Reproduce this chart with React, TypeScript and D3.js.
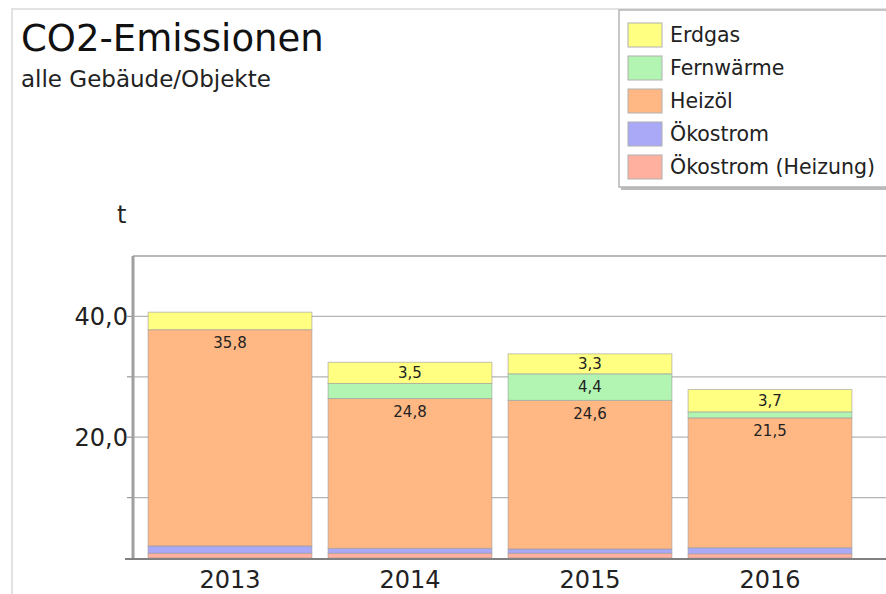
import React from "react";
import * as d3 from "d3";

const years = ["2013", "2014", "2015", "2016"];
const oekostromHeizung = [0.8, 0.8, 0.8, 0.7];
const oekostrom = [1.2, 0.8, 0.7, 1.0];
const heizoel = [35.8, 24.8, 24.6, 21.5];
const fernwaerme = [0, 2.5, 4.4, 1.0];
const erdgas = [2.9, 3.5, 3.3, 3.7];

const seriesNames = ["Ökostrom (Heizung)", "Ökostrom", "Heizöl", "Fernwärme", "Erdgas"];
const seriesValues = [oekostromHeizung, oekostrom, heizoel, fernwaerme, erdgas];
const seriesColors = ["#ffb09e", "#a9a9f8", "#ffb884", "#b2f5b2", "#ffff82"];
const legendOrder = ["Erdgas", "Fernwärme", "Heizöl", "Ökostrom", "Ökostrom (Heizung)"];
const yTickLabels = [20, 40];
const gridValues = [10, 20, 30, 40];

const W = 886;
const H = 594;
const FONT = "'DejaVu Sans', Verdana, sans-serif";

export default function App() {
  const plotLeft = 133;
  const plotRight = 886;
  const plotTop = 256;
  const plotBottom = 558;

  const y = d3.scaleLinear().domain([0, 50]).range([plotBottom, plotTop]);
  const x = d3
    .scaleBand<string>()
    .domain(years)
    .range([140, 860])
    .paddingInner(0.09)
    .paddingOuter(0.045);

  const table = years.map((yr, i) => {
    const row: Record<string, number | string> = { year: yr };
    seriesNames.forEach((n, k) => (row[n] = seriesValues[k][i]));
    return row;
  });
  const stack = d3.stack<any>().keys(seriesNames)(table as any);
  const fmt = (v: number) => d3.format(".1f")(v).replace(".", ",");
  const colorOf = (n: string) => seriesColors[seriesNames.indexOf(n)];

  return (
    <svg width={W} height={H} style={{ display: "block", position: "absolute", left: 0, top: 0 }} fontFamily={FONT}>
      <rect x={0} y={0} width={W} height={H} fill="#fff" />
      <rect x={12} y={9} width={W} height={H} fill="none" stroke="#e2e2e2" strokeWidth={2} />

      <text x={21} y={51} fontSize={37} fill="#111">CO2-Emissionen</text>
      <text x={21} y={87} fontSize={23} fill="#222">alle Gebäude/Objekte</text>

      {/* legend */}
      <rect x={621} y={13} width={280} height={177} fill="#bbb" />
      <rect x={619} y={10} width={280} height={177} fill="#fff" stroke="#b5b5b5" strokeWidth={1.5} />
      {legendOrder.map((n, i) => {
        const cy = 35 + i * 33;
        return (
          <g key={n}>
            <rect x={628} y={cy - 12} width={34} height={24} fill={colorOf(n)} stroke="#b0b0b0" strokeWidth={1} />
            <text x={670} y={cy + 7} fontSize={20.5} fill="#222">{n}</text>
          </g>
        );
      })}

      {/* unit */}
      <text x={117} y={223} fontSize={24} fill="#222">t</text>

      {/* grid */}
      <line x1={plotLeft} x2={plotRight} y1={plotTop} y2={plotTop} stroke="#b8b8b8" strokeWidth={2} />
      {gridValues.map((v) => (
        <g key={v}>
          <line x1={plotLeft} x2={plotRight} y1={y(v)} y2={y(v)} stroke="#b4b4b4" strokeWidth={1.2} />
          <line x1={127} x2={plotLeft} y1={y(v)} y2={y(v)} stroke="#999" strokeWidth={1.2} />
        </g>
      ))}
      {yTickLabels.map((v) => (
        <text key={v} x={128} y={y(v) + 9} textAnchor="end" fontSize={24} fill="#222">
          {fmt(v)}
        </text>
      ))}

      {/* bars */}
      {stack.map((layer) => (
        <g key={layer.key}>
          {layer.map((d, i) => {
            const h = y(d[0]) - y(d[1]);
            if (h <= 0) return null;
            return (
              <rect
                key={i}
                x={x(years[i])!}
                y={y(d[1])}
                width={x.bandwidth()}
                height={h}
                fill={colorOf(layer.key)}
                stroke="#9a9a9a"
                strokeOpacity={0.6}
                strokeWidth={1}
              />
            );
          })}
        </g>
      ))}
      {stack.map((layer) =>
        layer.map((d, i) => {
          const v = d[1] - d[0];
          if (v < 3) return null;
          const top = y(d[1]);
          const center = (y(d[0]) + y(d[1])) / 2;
          const cy = Math.min(center, top + 13);
          return (
            <text
              key={layer.key + i}
              x={x(years[i])! + x.bandwidth() / 2}
              y={cy + 5.5}
              textAnchor="middle"
              fontSize={15}
              fill="#222"
            >
              {fmt(v)}
            </text>
          );
        })
      )}

      {/* axes */}
      <line x1={plotLeft} x2={plotLeft} y1={plotTop} y2={plotBottom} stroke="#a0a0a0" strokeWidth={3} />
      <line x1={125} x2={plotRight} y1={plotBottom + 1} y2={plotBottom + 1} stroke="#808080" strokeWidth={2} />
      {years.map((yr) => (
        <text key={yr} x={x(yr)! + x.bandwidth() / 2} y={588} textAnchor="middle" fontSize={24} fill="#222">
          {yr}
        </text>
      ))}
    </svg>
  );
}
